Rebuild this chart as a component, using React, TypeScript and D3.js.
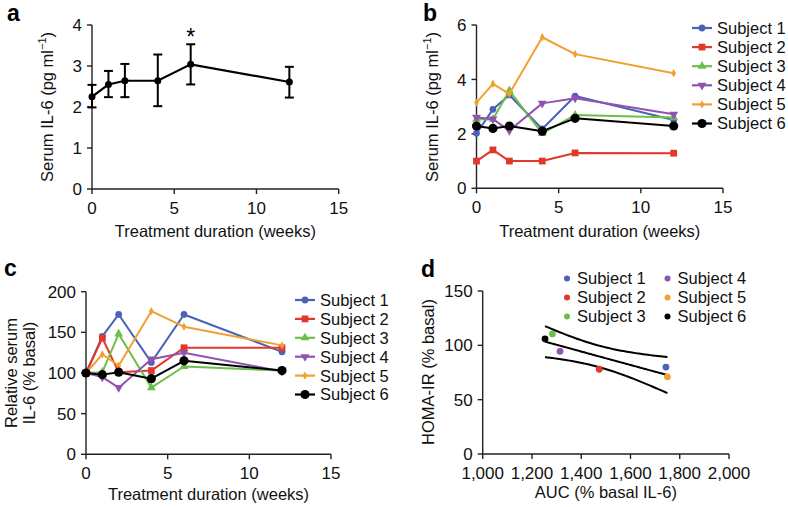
import React from "react";
import * as d3 from "d3";

const WEEKS = [0, 1, 2, 4, 6, 12];
const X_TICKS = [0, 5, 10, 15];

// Panel a: mean serum IL-6 with error bars
const MEAN_IL6 = [2.25, 2.55, 2.64, 2.64, 3.04, 2.61];
const ERR_LOW = [1.99, 2.24, 2.24, 2.02, 2.55, 2.23];
const ERR_HIGH = [2.54, 2.88, 3.05, 3.28, 3.53, 2.98];
const A_Y_TICKS = [0, 1, 2, 3, 4];

// Panel b: individual serum IL-6 (pg/ml)
const SUBJECTS = ["Subject 1", "Subject 2", "Subject 3", "Subject 4", "Subject 5", "Subject 6"];
const COLORS = ["#4a62b8", "#e2372b", "#6cbf4a", "#9152b0", "#f0a030", "#000000"];
const IL6_S1 = [2.02, 2.9, 3.43, 2.18, 3.39, 2.51];
const IL6_S2 = [1.0, 1.41, 1.0, 1.0, 1.3, 1.29];
const IL6_S3 = [2.54, 2.54, 3.59, 2.02, 2.69, 2.6];
const IL6_S4 = [2.61, 2.54, 2.12, 3.12, 3.31, 2.72];
const IL6_S5 = [3.15, 3.84, 3.47, 5.55, 4.93, 4.23];
const IL6_S6 = [2.29, 2.2, 2.29, 2.1, 2.57, 2.29];
const B_Y_TICKS = [0, 2, 4, 6];

// Panel c: relative serum IL-6 (% basal)
const REL_S1 = [100, 145, 172, 113, 172, 126];
const REL_S2 = [100, 143, 101, 103, 131, 131];
const REL_S3 = [100, 101, 148, 82, 108, 103];
const REL_S4 = [100, 95, 82, 117, 125, 102];
const REL_S5 = [100, 123, 109, 176, 157, 134];
const REL_S6 = [100, 98, 101, 93, 115, 103];
const C_Y_TICKS = [0, 50, 100, 150, 200];

// Panel d: HOMA-IR vs AUC
const AUC = [1744, 1473, 1283, 1314, 1750, 1253];
const HOMA = [80, 78, 110.5, 94.5, 71, 106];
const D_X_TICKS = [1000, 1200, 1400, 1600, 1800, 2000];
const D_Y_TICKS = [0, 50, 100, 150];
const T_CRIT_DF4 = 2.776;

const FONT = "'Liberation Sans', Arial, Helvetica, sans-serif";
const FS = 16.5;
const AXIS = "#222";

const SYMBOLS = [
  { type: d3.symbolCircle, size: 36, rot: 0 },
  { type: d3.symbolSquare, size: 46, rot: 0 },
  { type: d3.symbolTriangle, size: 34, rot: 0 },
  { type: d3.symbolTriangle, size: 34, rot: 180 },
  { type: d3.symbolDiamond, size: 20, rot: 0 },
  { type: d3.symbolCircle, size: 66, rot: 0 },
];

function Marker({ i, x, y }: { i: number; x: number; y: number }) {
  const s = SYMBOLS[i];
  const p = d3.symbol().type(s.type).size(s.size)() || "";
  return <path d={p} transform={`translate(${x},${y}) rotate(${s.rot})`} fill={COLORS[i]} />;
}

function Axes({ xs, ys, xTicks, yTicks, fmt }: any) {
  const [xr0, xr1] = xs.range();
  const [yr0, yr1] = ys.range();
  const f = fmt || ((v: number) => String(v));
  return (
    <g fontFamily={FONT} fontSize={17} fill="#111">
      <line x1={xr0} x2={xr0} y1={yr0} y2={yr1} stroke={AXIS} strokeWidth={1.4} />
      <line x1={xr0} x2={xr1} y1={yr0} y2={yr0} stroke={AXIS} strokeWidth={1.4} />
      {yTicks.map((t: number) => (
        <g key={"y" + t}>
          <line x1={xr0 - 5} x2={xr0} y1={ys(t)} y2={ys(t)} stroke={AXIS} strokeWidth={1.4} />
          <text x={xr0 - 10} y={ys(t)} dy="0.36em" textAnchor="end">{f(t)}</text>
        </g>
      ))}
      {xTicks.map((t: number) => (
        <g key={"x" + t}>
          <line x1={xs(t)} x2={xs(t)} y1={yr0} y2={yr0 + 5} stroke={AXIS} strokeWidth={1.4} />
          <text x={xs(t)} y={yr0 + 25} textAnchor="middle">{f(t)}</text>
        </g>
      ))}
    </g>
  );
}

function PanelLetter({ x, y, t }: { x: number; y: number; t: string }) {
  return (
    <text x={x} y={y} fontFamily={FONT} fontWeight="bold" fontSize={23} fill="#000">{t}</text>
  );
}

function IL6Label({ cx, cy }: { cx: number; cy: number }) {
  return (
    <text transform={`translate(${cx},${cy}) rotate(-90)`} textAnchor="middle" dy="0.35em" fontFamily={FONT} fontSize={FS} fill="#111">
      Serum IL-6 (pg ml<tspan fontSize={11} dy={-7}>−1</tspan><tspan dy={7}>)</tspan>
    </text>
  );
}

function SubjectLines({ xs, ys, data }: any) {
  const line = d3.line<number>().x((_, i) => xs(WEEKS[i])).y((v) => ys(v));
  return (
    <g>
      {data.map((arr: number[], i: number) => (
        <g key={i}>
          <path d={line(arr) || ""} fill="none" stroke={COLORS[i]} strokeWidth={2} strokeLinejoin="round" />
          {arr.map((v, j) => <Marker key={j} i={i} x={xs(WEEKS[j])} y={ys(v)} />)}
        </g>
      ))}
    </g>
  );
}

function LineLegend({ x, y, step }: { x: number; y: number; step: number }) {
  return (
    <g fontFamily={FONT} fontSize={FS} fill="#111">
      {SUBJECTS.map((s, i) => (
        <g key={s}>
          <line x1={x} x2={x + 20} y1={y + i * step} y2={y + i * step} stroke={COLORS[i]} strokeWidth={2.2} />
          <Marker i={i} x={x + 10} y={y + i * step} />
          <text x={x + 25} y={y + i * step} dy="0.36em">{s}</text>
        </g>
      ))}
    </g>
  );
}

export default function App() {
  // Panel a
  const ax = d3.scaleLinear().domain([0, 15]).range([92, 338.7]);
  const ay = d3.scaleLinear().domain([0, 4]).range([189, 25]);
  const aLine = d3.line<number>().x((_, i) => ax(WEEKS[i])).y((v) => ay(v));

  // Panel b
  const bx = d3.scaleLinear().domain([0, 15]).range([476.5, 723]);
  const by = d3.scaleLinear().domain([0, 6]).range([188.3, 25]);
  const bData = [IL6_S1, IL6_S2, IL6_S3, IL6_S4, IL6_S5, IL6_S6];

  // Panel c
  const cx = d3.scaleLinear().domain([0, 15]).range([86, 331]);
  const cy = d3.scaleLinear().domain([0, 200]).range([454.3, 291.7]);
  const cData = [REL_S1, REL_S2, REL_S3, REL_S4, REL_S5, REL_S6];

  // Panel d
  const dx = d3.scaleLinear().domain([1000, 2000]).range([482.7, 729]);
  const dy = d3.scaleLinear().domain([0, 150]).range([454, 291]);
  const n = AUC.length;
  const mx = d3.mean(AUC) as number;
  const my = d3.mean(HOMA) as number;
  const sxx = d3.sum(AUC, (v) => (v - mx) ** 2);
  const sxy = d3.sum(AUC.map((v, i) => (v - mx) * (HOMA[i] - my)));
  const slope = sxy / sxx;
  const icpt = my - slope * mx;
  const ssr = d3.sum(AUC.map((v, i) => (HOMA[i] - (icpt + slope * v)) ** 2));
  const s = Math.sqrt(ssr / (n - 2));
  const [xmin, xmax] = d3.extent(AUC) as [number, number];
  const grid = d3.range(0, 51).map((k) => xmin + ((xmax - xmin) * k) / 50);
  const fit = (v: number) => icpt + slope * v;
  const half = (v: number) => T_CRIT_DF4 * s * Math.sqrt(1 / n + (v - mx) ** 2 / sxx);
  const dLine = d3.line<number[]>().x((p) => dx(p[0])).y((p) => dy(p[1])).curve(d3.curveMonotoneX);
  const mid = grid.map((v) => [v, fit(v)]);
  const up = grid.map((v) => [v, fit(v) + half(v)]);
  const lo = grid.map((v) => [v, fit(v) - half(v)]);
  const fmtComma = d3.format(",");

  return (
    <svg width={788} height={507} style={{ position: "absolute", left: 0, top: 0, background: "#fff" }}>
      <rect width={788} height={507} fill="#fff" />

      {/* Panel a */}
      <PanelLetter x={7} y={21} t="a" />
      <Axes xs={ax} ys={ay} xTicks={X_TICKS} yTicks={A_Y_TICKS} />
      <IL6Label cx={47} cy={107} />
      <text x={(92 + 338.7) / 2} y={237} textAnchor="middle" fontFamily={FONT} fontSize={FS} fill="#111">Treatment duration (weeks)</text>
      <g stroke="#000" strokeWidth={2}>
        {WEEKS.map((w, i) => (
          <g key={w}>
            <line x1={ax(w)} x2={ax(w)} y1={ay(ERR_LOW[i])} y2={ay(ERR_HIGH[i])} />
            <line x1={ax(w) - 4.5} x2={ax(w) + 4.5} y1={ay(ERR_LOW[i])} y2={ay(ERR_LOW[i])} />
            <line x1={ax(w) - 4.5} x2={ax(w) + 4.5} y1={ay(ERR_HIGH[i])} y2={ay(ERR_HIGH[i])} />
          </g>
        ))}
      </g>
      <path d={aLine(MEAN_IL6) || ""} fill="none" stroke="#000" strokeWidth={2.2} />
      {WEEKS.map((w, i) => <circle key={w} cx={ax(w)} cy={ay(MEAN_IL6[i])} r={3.5} fill="#000" />)}
      <text x={ax(6)} y={45} textAnchor="middle" fontFamily={FONT} fontSize={23} fill="#000">*</text>

      {/* Panel b */}
      <PanelLetter x={423} y={21} t="b" />
      <Axes xs={bx} ys={by} xTicks={X_TICKS} yTicks={B_Y_TICKS} />
      <IL6Label cx={432} cy={107} />
      <text x={(476.5 + 723) / 2} y={237} textAnchor="middle" fontFamily={FONT} fontSize={FS} fill="#111">Treatment duration (weeks)</text>
      <SubjectLines xs={bx} ys={by} data={bData} />
      <LineLegend x={692} y={28} step={19.1} />

      {/* Panel c */}
      <PanelLetter x={4} y={276} t="c" />
      <Axes xs={cx} ys={cy} xTicks={X_TICKS} yTicks={C_Y_TICKS} />
      <text transform={`translate(11,373) rotate(-90)`} textAnchor="middle" dy="0.35em" fontFamily={FONT} fontSize={FS} fill="#111">Relative serum</text>
      <text transform={`translate(29,373) rotate(-90)`} textAnchor="middle" dy="0.35em" fontFamily={FONT} fontSize={FS} fill="#111">IL-6 (% basal)</text>
      <text x={(86 + 331) / 2} y={500} textAnchor="middle" fontFamily={FONT} fontSize={FS} fill="#111">Treatment duration (weeks)</text>
      <SubjectLines xs={cx} ys={cy} data={cData} />
      <LineLegend x={295} y={300} step={18.9} />

      {/* Panel d */}
      <PanelLetter x={421} y={277} t="d" />
      <Axes xs={dx} ys={dy} xTicks={D_X_TICKS} yTicks={D_Y_TICKS} fmt={fmtComma} />
      <text transform={`translate(428,372) rotate(-90)`} textAnchor="middle" dy="0.35em" fontFamily={FONT} fontSize={FS} fill="#111">HOMA-IR (% basal)</text>
      <text x={(482.7 + 729) / 2} y={498} textAnchor="middle" fontFamily={FONT} fontSize={FS} fill="#111">AUC (% basal IL-6)</text>
      <g fill="none" stroke="#000" strokeWidth={2}>
        <path d={dLine(up) || ""} />
        <path d={dLine(mid) || ""} />
        <path d={dLine(lo) || ""} />
      </g>
      {AUC.map((v, i) => <circle key={i} cx={dx(v)} cy={dy(HOMA[i])} r={3.4} fill={COLORS[i]} />)}
      <g fontFamily={FONT} fontSize={FS} fill="#111">
        {SUBJECTS.map((sname, i) => {
          const col = Math.floor(i / 3);
          const row = i % 3;
          const mxp = col === 0 ? 567 : 667.5;
          const yy = 278.5 + row * 19;
          return (
            <g key={sname}>
              <circle cx={mxp} cy={yy} r={3} fill={COLORS[i]} />
              <text x={mxp + 10} y={yy} dy="0.36em">{sname}</text>
            </g>
          );
        })}
      </g>
    </svg>
  );
}
